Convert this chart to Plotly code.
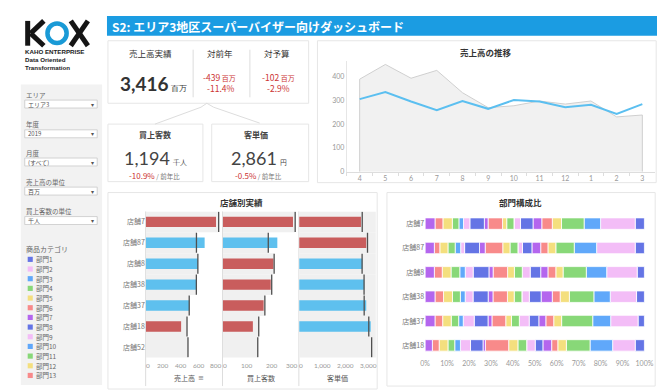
import plotly.graph_objects as go
import numpy as np

W, H = 665, 390
def px(x): return x / W
def py(y): return 1 - y / H

JP = "Noto Sans CJK JP"
NUM = "Lato"
RED_TXT = "#cc3333"
BAR_RED = "#c95d5d"
BAR_BLUE = "#5ec0ee"

# ---------------- data ----------------
title_text = "S2: エリア3地区スーパーバイザー向けダッシュボード"

filter_labels = ["エリア", "年度", "月度", "売上高の単位", "買上客数の単位"]
filter_values = ["エリア3", "2019", "(すべて)", "百万", "千人"]

sales_total = 3416
sales_vs_ly = -439
sales_vs_ly_pct = -11.4
sales_vs_budget = -102
sales_vs_budget_pct = -2.9
customers_total = 1194
customers_yoy_pct = -10.9
unit_price_total = 2861
unit_price_yoy_pct = -0.5

months = ["4", "5", "6", "7", "8", "9", "10", "11", "12", "1", "2", "3"]
sales_this_year = [306, 336, 296, 259, 298, 265, 302, 296, 272, 282, 244, 285]
sales_last_year = [390, 452, 394, 427, 333, 270, 278, 298, 285, 298, 231, 239]

stores = ["店舗7", "店舗87", "店舗8", "店舗38", "店舗37", "店舗18", "店舗52"]
store_sales = [796, 667, 592, 576, 494, 400, None]
store_sales_target = [826, 574, 590, 573, 492, 467, 478]
store_customers = [287, 223, 207, 196, 167, 123, None]
store_customers_target = [296, 186, 210, 200, 172, 147, 143]
store_unit_price = [2690, 2920, 2750, 2835, 2920, 3115, None]
store_unit_price_target = [2745, 2975, 2740, 2825, 2830, 3030, 3155]
store_unit_price_band = [3340, 3340, 3340, 3340, 3340, 3340, 3340]

sales_ticks = [0, 200, 400, 600, 800]
customers_ticks = [0, 100, 200, 300]
price_ticks = [0, 1000, 2000, 3000]
share_ticks = [0, 10, 20, 30, 40, 50, 60, 70, 80, 90, 100]

categories = ["部門%d" % i for i in range(1, 22)]
palette = ["#6474e5", "#f3bdf7", "#60a8fa", "#88d878", "#f4df7e", "#f88a8a", "#b466ee"]
legend_count = 13

mix_stores = ["店舗7", "店舗87", "店舗8", "店舗38", "店舗37", "店舗18"]
mix_store7 = [4.2, 15.8, 7.5, 10.3, 4.2, 4.8, 4.0, 5.7, 3.0, 0, 3.3, 1.9, 6.6, 1.7, 6.6, 2.9, 2.1, 3.0, 4.3, 3.6, 4.5]
mix_store87 = [4.2, 17.6, 10.2, 8.4, 3.6, 3.3, 4.0, 4.3, 2.1, 0, 3.6, 3.3, 8.0, 2.6, 6.8, 1.8, 2.5, 3.3, 3.7, 2.5, 4.2]
mix_store8 = [3.3, 13.9, 9.3, 10.6, 3.3, 3.6, 3.3, 4.8, 3.6, 0, 3.6, 3.1, 6.6, 1.9, 7.2, 3.6, 2.5, 4.0, 4.0, 3.6, 4.2]
mix_store38 = [3.6, 12.0, 7.5, 11.2, 4.2, 3.6, 5.1, 5.4, 3.4, 0, 3.5, 3.1, 6.6, 2.2, 6.9, 3.6, 2.2, 3.6, 4.1, 3.9, 4.5]
mix_store37 = [2.9, 12.5, 8.2, 14.2, 3.6, 3.6, 3.2, 4.4, 4.5, 0, 3.6, 2.6, 6.3, 1.8, 6.3, 5.0, 2.1, 3.4, 3.9, 3.5, 4.5]
mix_store18 = [4.2, 10.3, 10.3, 10.8, 3.9, 2.8, 4.0, 3.5, 3.9, 0, 4.0, 4.2, 10.6, 1.1, 5.7, 4.6, 2.6, 3.1, 4.0, 3.1, 3.3]

cat_colors = [palette[i % len(palette)] for i in range(len(categories))]

# ---------------- figure ----------------
fig = go.Figure()

# line chart: last year area + this year line
fig.add_trace(go.Scatter(
    x=[months[0]] + months + [months[-1]], y=[0] + sales_last_year + [0],
    mode="lines", fill="toself", fillcolor="#f1f1f1",
    line=dict(color="#cfcfcf", width=1), xaxis="x", yaxis="y", hoverinfo="skip"))
fig.add_trace(go.Scatter(
    x=months, y=sales_this_year, mode="lines",
    line=dict(color="#5bbff0", width=2), xaxis="x", yaxis="y"))

# bullet charts
idx = list(range(len(stores)))
metrics = [
    (store_sales, store_sales_target, store_sales_target, sales_ticks, "x2", "y2", 0),
    (store_customers, store_customers_target, store_customers_target, customers_ticks, "x3", "y3", -4),
    (store_unit_price, store_unit_price_target, store_unit_price_band, price_ticks, "x4", "y4", 0),
]
tick_annots = []
for vals, tgt, band, ticks, xa, ya, last_shift in metrics:
    fig.add_trace(go.Bar(y=idx, x=band, orientation="h", width=1.0,
                         marker=dict(color="#f0f0f0", line=dict(width=0)),
                         xaxis=xa, yaxis=ya, hoverinfo="skip"))
    colors = [BAR_BLUE if (v is not None and v >= t) else BAR_RED for v, t in zip(vals, tgt)]
    fig.add_trace(go.Bar(y=idx, x=vals, orientation="h", width=0.5,
                         marker=dict(color=colors, line=dict(width=0)),
                         xaxis=xa, yaxis=ya))
    lx, ly = [], []
    for i, t in enumerate(tgt):
        lx += [t, t, None]
        ly += [i - 0.48, i + 0.48, None]
    fig.add_trace(go.Scatter(x=lx, y=ly, mode="lines",
                             line=dict(color="#505050", width=1.3),
                             xaxis=xa, yaxis=ya, hoverinfo="skip"))
    # Tableau-style tick labels (edge labels nudged inward)
    for j, v in enumerate(ticks):
        shift = 2 if j == 0 else (last_shift if j == len(ticks) - 1 else 0)
        tick_annots.append(dict(x=v, xref=xa, y=py(360), yref="paper", text="{:,}".format(v),
                                showarrow=False, xanchor="center", yanchor="middle",
                                xshift=shift, borderpad=0, borderwidth=0,
                                font=dict(size=6.5, color="#999999", family=NUM)))

# stacked composition chart
mix = np.array([mix_store7, mix_store87, mix_store8, mix_store38, mix_store37, mix_store18], dtype=float)
mix = mix / mix.sum(axis=1, keepdims=True) * 100
midx = list(range(len(mix_stores)))
for k in range(mix.shape[1]):
    base = mix[:, k + 1:].sum(axis=1)
    fig.add_trace(go.Bar(y=midx, x=mix[:, k], base=base, orientation="h", width=0.47,
                         name=categories[k],
                         marker=dict(color=cat_colors[k], line=dict(color="white", width=0.8)),
                         xaxis="x5", yaxis="y5"))

tickfont = dict(size=7, color="#999999", family=NUM)
common_x = dict(showgrid=False, zeroline=False, fixedrange=True, tickfont=tickfont)

layout = dict(
    width=W, height=H, autosize=False,
    margin=dict(l=0, r=0, t=0, b=0),
    paper_bgcolor="white", plot_bgcolor="rgba(0,0,0,0)",
    showlegend=False, barmode="overlay",
    xaxis=dict(common_x, domain=[px(341), px(656)], type="category", categoryarray=months,
               range=[-0.5, 11.5], anchor="y", showline=True, linecolor="#dddddd",
               ticks="outside", tickson="boundaries", ticklen=3, tickcolor="#dddddd"),
    yaxis=dict(common_x, domain=[py(165), py(53.3)], range=[0, 467], anchor="x",
               tickvals=[0, 100, 200, 300, 400], showline=True, linecolor="#e6e6e6"),
    xaxis2=dict(common_x, domain=[px(135.7), px(212.7)], range=[0, 855], anchor="y2",
                showticklabels=False),
    yaxis2=dict(common_x, domain=[py(352.5), py(205)], range=[6.5, -0.5], anchor="x2",
                tickvals=idx, ticktext=stores, tickfont=dict(size=7, color="#777777", family=JP)),
    xaxis3=dict(common_x, domain=[px(214.3), px(291)], range=[0, 307], anchor="y3",
                showticklabels=False),
    yaxis3=dict(common_x, domain=[py(352.5), py(205)], range=[6.5, -0.5], anchor="x3",
                showticklabels=False),
    xaxis4=dict(common_x, domain=[px(292.3), px(370.7)], range=[0, 3340], anchor="y4",
                showticklabels=False),
    yaxis4=dict(common_x, domain=[py(352.5), py(205)], range=[6.5, -0.5], anchor="x4",
                showticklabels=False),
    xaxis5=dict(common_x, domain=[px(421), px(645)], range=[0, 100], anchor="y5",
                tickvals=share_ticks, ticktext=["{}%".format(v) for v in share_ticks]),
    yaxis5=dict(common_x, domain=[py(352.3), py(205)], range=[5.5, -0.5], anchor="x5",
                tickvals=midx, ticktext=mix_stores, tickfont=dict(size=7, color="#777777", family=JP)),
)

shapes = []
def rect(x0, y0, x1, y1, fill="white", line="#e6e6e6", lw=1):
    shapes.append(dict(type="rect", xref="paper", yref="paper", x0=px(x0), x1=px(x1),
                       y0=py(y1), y1=py(y0), fillcolor=fill,
                       line=dict(color=line, width=lw), layer="below"))
def hline(x0, y0, x1, y1, color="#dddddd", lw=1, layer="below"):
    shapes.append(dict(type="line", xref="paper", yref="paper", x0=px(x0), x1=px(x1),
                       y0=py(y0), y1=py(y1), line=dict(color=color, width=lw), layer=layer))

# logo mark "KOX" drawn as strokes
LOGO_DARK = "#151515"
LOGO_BLUE = "#1a9ad6"
hline(15, 13, 15, 38, LOGO_DARK, 5, "above")
hline(18, 25.5, 31.5, 13, LOGO_DARK, 5, "above")
hline(18, 25.5, 31.5, 38, LOGO_DARK, 5, "above")
shapes.append(dict(type="circle", xref="paper", yref="paper",
                   x0=px(35.2), x1=px(54.8), y0=py(35.3), y1=py(15.7),
                   line=dict(color=LOGO_BLUE, width=4.5), fillcolor="rgba(0,0,0,0)", layer="above"))
hline(59, 13, 76.5, 38, LOGO_DARK, 5, "above")
hline(76.5, 13, 59, 38, LOGO_DARK, 5, "above")

# header
rect(96, 8, 658, 28, fill="#1b9ce2", line="#1b9ce2", lw=0)
# sidebar
rect(8, 77, 91, 380, fill="#f2f2f2", line="#f2f2f2", lw=0)
# cards / panels
rect(97, 33, 302, 96)
rect(97, 117, 194, 175)
rect(203, 117, 302, 175)
rect(311, 33, 657, 176)
rect(97, 186, 372, 384)
rect(382, 186, 656, 381)
hline(184, 42, 184, 90)
hline(242, 42, 242, 90)
shapes.append(dict(type="path", xref="paper", yref="paper",
                   path="M %f,%f L %f,%f L %f,%f L %f,%f L %f,%f" % (
                       px(145), py(117), px(192), py(100), px(198), py(96),
                       px(205), py(100), px(252), py(116)),
                   line=dict(color="#dddddd", width=1), layer="below"))
# bullet separators
for xs in (135.5, 214, 292):
    hline(xs, 205, xs, 381)

annotations = list(tick_annots)
def T(x, y, text, size=8, color="#333333", xa="center", ya="middle", family=JP, align="center"):
    annotations.append(dict(x=px(x), y=py(y), xref="paper", yref="paper", text=text,
                            showarrow=False, xanchor=xa, yanchor=ya, borderpad=0, borderwidth=0,
                            align=align, font=dict(size=size, color=color, family=family)))

# logo subtitle
T(12, 51.5, "<b>KAHO ENTERPRISE<br>Data Oriented<br>Transformation</b>", size=6.2,
  color="#222222", xa="left", family="Liberation Sans", align="left")

# filters
label_y = [87.3, 117.3, 145.7, 175, 204.7]
for lab, val, ly in zip(filter_labels, filter_values, label_y):
    T(13, ly, lab, size=6.5, color="#666666", xa="left")
    rect(12, ly + 5.5, 86, ly + 13.5, fill="white", line="#c8c8c8", lw=0.8)
    T(15, ly + 9.5, val, size=6, color="#555555", xa="left")
    T(81, ly + 9.5, "▾", size=6, color="#555555", family="DejaVu Sans")

# legend
T(13, 243, "商品カテゴリ", size=7, color="#666666", xa="left")
for i in range(legend_count):
    yy = 253.3 + i * 9.75
    rect(15, yy - 2.6, 20.2, yy + 2.6, fill=cat_colors[i], line=cat_colors[i], lw=0)
    T(24, yy, categories[i], size=6.5, color="#666666", xa="left")

# header title
T(101, 18.5, "<b>%s</b>" % title_text, size=12, color="white", xa="left")

# KPI card
T(140, 45.5, "売上高実績", size=8.5)
T(109, 76, "<b>{:,}</b><span style='font-size:8px'> 百万</span>".format(sales_total),
  size=19, color="#333333", xa="left", family=NUM)
T(211, 45.5, "対前年", size=8.5)
T(211, 70, "{:,}<span style='font-size:7px'> 百万</span>".format(sales_vs_ly), size=8.5, color=RED_TXT)
T(212, 81, "{:.1f}%".format(sales_vs_ly_pct), size=8.5, color=RED_TXT)
T(270, 45.5, "対予算", size=8.5)
T(271, 70, "{:,}<span style='font-size:7px'> 百万</span>".format(sales_vs_budget), size=8.5, color=RED_TXT)
T(271, 81, "{:.1f}%".format(sales_vs_budget_pct), size=8.5, color=RED_TXT)

T(145, 127, "<b>買上客数</b>", size=8, color="#444444")
T(113, 150.8, "{:,}<span style='font-size:7px'>  千人</span>".format(customers_total),
  size=18, color="#444444", xa="left", family=NUM)
T(145, 168.5, "<span style='color:%s'>%.1f%%</span><span style='font-size:6.5px;color:#777777'> / 前年比</span>"
  % (RED_TXT, customers_yoy_pct), size=8)
T(248, 127, "<b>客単価</b>", size=8, color="#444444")
T(223, 150.8, "{:,}<span style='font-size:7px'>  円</span>".format(unit_price_total),
  size=18, color="#444444", xa="left", family=NUM)
T(251, 168.5, "<span style='color:%s'>%.1f%%</span><span style='font-size:6.5px;color:#777777'> / 前年比</span>"
  % (RED_TXT, unit_price_yoy_pct), size=8)

# chart titles
T(483, 44.5, "<b>売上高の推移</b>", size=8.5, color="#333333")
T(233, 196, "<b>店舗別実績</b>", size=8.5, color="#333333")
T(518, 196, "<b>部門構成比</b>", size=8.5, color="#333333")

# bullet axis titles
T(175, 373, "売上高", size=7, color="#555555")
T(192, 373, "≡", size=7, color="#777777", family="DejaVu Sans")
T(253, 373, "買上客数", size=7, color="#555555")
T(331, 373, "客単価", size=7, color="#555555")

layout["shapes"] = shapes
layout["annotations"] = annotations
fig.update_layout(layout)

fig.write_html("out.html", config={"displayModeBar": False})
